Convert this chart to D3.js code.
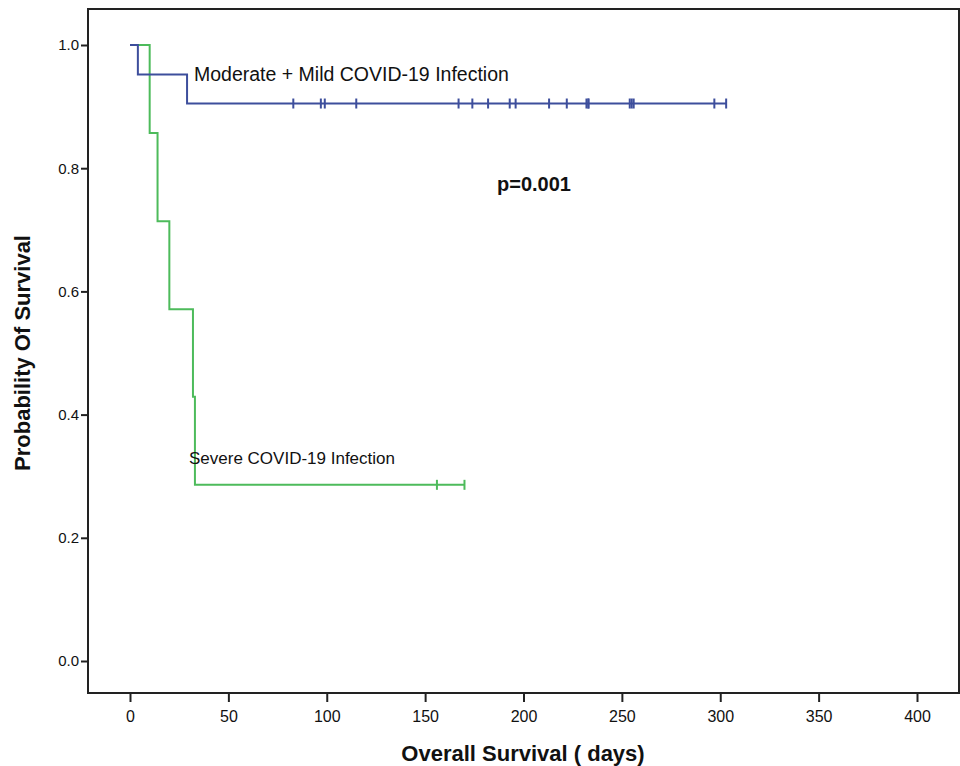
<!DOCTYPE html>
<html>
<head>
<meta charset="utf-8">
<script src="https://cdn.jsdelivr.net/npm/d3@7"></script>
<style>
  body { margin: 0; background: #fff; }
  svg { display: block; }
  text { font-family: "Liberation Sans", Arial, sans-serif; fill: #111; }
</style>
</head>
<body>
<svg id="chart" width="960" height="766"></svg>
<script>
/* Kaplan-Meier steps */
var mildDays   = [0, 4, 29];
var mildSurv   = [1.0, 0.952, 0.905];
var mildCensor = [83, 97, 99, 115, 167, 174, 182, 193, 196, 213, 222, 232, 233, 233, 254, 255, 256, 297, 303];

var severeDays   = [0, 10, 14, 20, 32, 33];
var severeSurv   = [1.0, 0.857, 0.714, 0.571, 0.429, 0.286];
var severeCensor = [156, 170];

var xTicks = [0, 50, 100, 150, 200, 250, 300, 350, 400];
var yTicks = [0, 0.2, 0.4, 0.6, 0.8, 1.0];

/* Layout */
var frame = { left: 88, top: 9, right: 959, bottom: 693 };
var colors = { mild: "#3d4e9c", severe: "#4dbb5b", axis: "#222" };

var svg = d3.select("svg#chart");

var x = d3.scaleLinear().domain([0, 400]).range([130, 917]);
var y = d3.scaleLinear().domain([0, 1]).range([661, 45]);

/* frame */
svg.append("rect")
  .attr("x", frame.left)
  .attr("y", frame.top)
  .attr("width", frame.right - frame.left)
  .attr("height", frame.bottom - frame.top)
  .attr("fill", "none")
  .attr("stroke", colors.axis)
  .attr("stroke-width", 2);

/* axes */
var yAxis = d3.axisLeft(y)
  .tickValues(yTicks)
  .tickFormat(d3.format(".1f"))
  .tickSize(6)
  .tickPadding(2);

svg.append("g")
  .attr("transform", `translate(${frame.left - 1}, 0)`)
  .call(yAxis)
  .call(g => g.select(".domain").remove())
  .call(g => g.selectAll("line").attr("stroke", colors.axis).attr("stroke-width", 2))
  .call(g => g.selectAll("text").style("font-size", "15px").attr("fill", "#111")
      .style("font-family", "'Liberation Sans', Arial, sans-serif"));

var xAxis = d3.axisBottom(x)
  .tickValues(xTicks)
  .tickFormat(d3.format("d"))
  .tickSize(8)
  .tickPadding(9);

svg.append("g")
  .attr("transform", `translate(0, ${frame.bottom + 1})`)
  .call(xAxis)
  .call(g => g.select(".domain").remove())
  .call(g => g.selectAll("line").attr("stroke", colors.axis).attr("stroke-width", 2))
  .call(g => g.selectAll("text").style("font-size", "16px").attr("fill", "#111")
      .style("font-family", "'Liberation Sans Narrow', 'Liberation Sans', Arial, sans-serif"));

/* axis titles */
svg.append("text")
  .attr("transform", `translate(30, 353) rotate(-90)`)
  .attr("text-anchor", "middle")
  .style("font-size", "22px")
  .style("font-weight", "bold")
  .text("Probability Of Survival");

svg.append("text")
  .attr("x", 523)
  .attr("y", 761)
  .attr("text-anchor", "middle")
  .style("font-size", "22px")
  .style("font-weight", "bold")
  .text("Overall Survival ( days)");

/* step curve builder */
function kmPoints(days, surv, censor) {
  var end = d3.max(censor);
  var pts = days.map((d, i) => [d, surv[i]]);
  pts.push([end, surv[surv.length - 1]]);
  return pts;
}

var stepLine = d3.line()
  .x(d => x(d[0]))
  .y(d => y(d[1]))
  .curve(d3.curveStepAfter);

function drawCurve(days, surv, censor, color) {
  var g = svg.append("g");
  g.append("path")
    .attr("d", stepLine(kmPoints(days, surv, censor)))
    .attr("fill", "none")
    .attr("stroke", color)
    .attr("stroke-width", 2);

  var last = surv[surv.length - 1];
  g.selectAll(".censor")
    .data(censor)
    .enter()
    .append("line")
    .attr("class", "censor")
    .attr("x1", d => x(d))
    .attr("x2", d => x(d))
    .attr("y1", y(last) - 5)
    .attr("y2", y(last) + 5)
    .attr("stroke", color)
    .attr("stroke-width", 2);
}

drawCurve(severeDays, severeSurv, severeCensor, colors.severe);
drawCurve(mildDays, mildSurv, mildCensor, colors.mild);

/* annotations */
svg.append("text")
  .attr("x", 194)
  .attr("y", 81)
  .style("font-size", "19.5px")
  .text("Moderate + Mild COVID-19 Infection");

svg.append("text")
  .attr("x", 189)
  .attr("y", 464)
  .style("font-size", "17px")
  .text("Severe COVID-19 Infection");

svg.append("text")
  .attr("x", 497)
  .attr("y", 191)
  .style("font-size", "20px")
  .style("font-weight", "bold")
  .text("p=0.001");
</script>
</body>
</html>
